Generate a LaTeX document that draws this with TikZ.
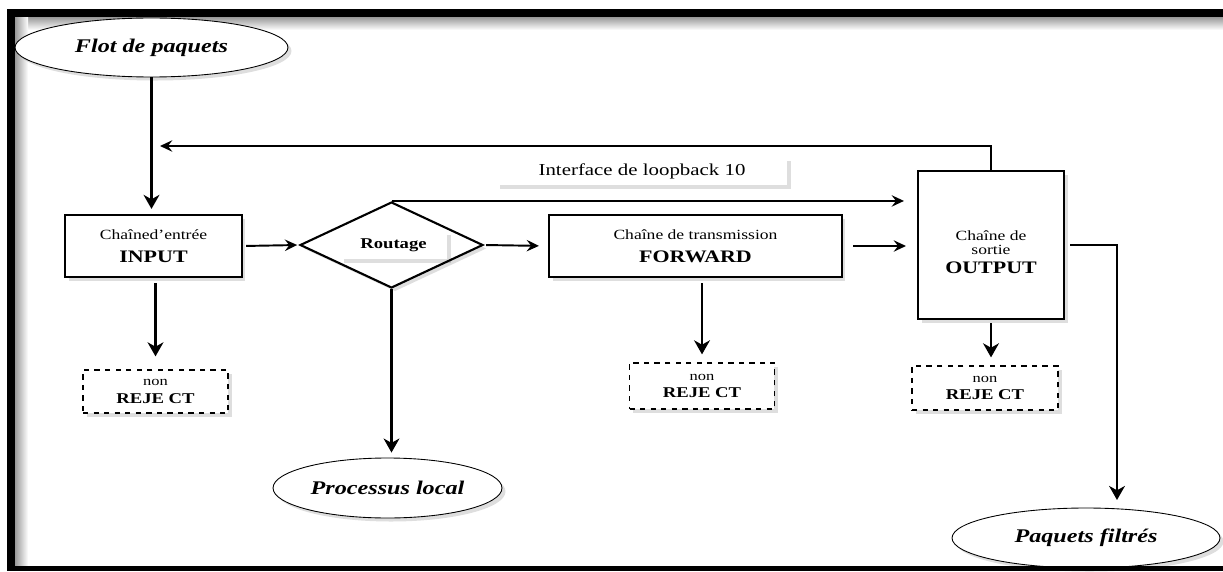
\documentclass[tikz,border=0pt]{standalone}
\usepackage{fontspec}
\setmainfont{Liberation Serif}[FakeStretch=1.25]
\usetikzlibrary{arrows.meta,shapes.geometric,shadows}
\begin{document}
\begin{tikzpicture}[x=0.02cm,y=-0.02cm,
  sh/.style={drop shadow={shadow xshift=2pt,shadow yshift=-2pt,opacity=0.13,fill=black}},
  box/.style={draw,line width=1.2pt,fill=white,inner sep=0pt,align=center,sh},
  rej/.style={draw,dashed,line width=0.7pt,fill=white,inner sep=0pt,align=center,sh,font=\fontsize{7.5}{8}\selectfont},
  oval/.style={ellipse,draw,line width=0.5pt,fill=white,inner sep=0pt,sh,font=\bfseries\itshape\fontsize{11}{13}\selectfont},
  tag/.style={fill=white,inner sep=0pt,sh},
  bigarr/.style={line width=1.6pt,-{Stealth[length=8pt,width=9pt,inset=2.5pt]}},
  smallarr/.style={line width=1.1pt,-{Stealth[length=7pt,width=6.5pt,inset=2.5pt]}},
]
\useasboundingbox (0,0) rectangle (1223,571);
% frame
\shade[top color=black!40,bottom color=white] (15,17) rectangle (1223,30);
\shade[left color=black!40,right color=white] (15,17) rectangle (28,567);
\fill (7,9) rectangle (1223,17);
\fill (7,9) rectangle (15,571);

% nodes
\node[oval,minimum width=5.46cm,minimum height=1.18cm] (flot) at (151.5,47.5) {Flot de paquets};
\node[box,minimum width=3.54cm,minimum height=1.24cm,font=\fontsize{8}{10}\selectfont] (input) at (153.5,246)
  {Chaîned'entrée\\[3pt]\bfseries\fontsize{10}{12}\selectfont INPUT};
\node[diamond,draw,line width=1.2pt,fill=white,inner sep=0pt,aspect=2.13,minimum width=3.66cm,minimum height=1.72cm,sh] (rout) at (391.5,245) {};
\node[tag,minimum width=2.14cm,minimum height=0.56cm,font=\bfseries\fontsize{8.5}{10}\selectfont] (routlbl) at (393.5,245) {Routage};
\node[tag,minimum width=5.82cm,minimum height=0.56cm,font=\fontsize{9.5}{11}\selectfont] (loop) at (642,171) {Interface de loopback 10};
\node[box,minimum width=5.86cm,minimum height=1.24cm,font=\fontsize{8}{10}\selectfont] (forward) at (695.5,246)
  {Chaîne de transmission\\[3pt]\bfseries\fontsize{10}{12}\selectfont FORWARD};
\node[box,minimum width=2.92cm,minimum height=2.96cm] (output) at (991,245) {};
\node[align=center,inner sep=0pt,font=\fontsize{8}{8}\selectfont] (outlbl) at (991,252)
  {Chaîne de\\sortie\\[3pt]\bfseries\fontsize{10}{12}\selectfont OUTPUT};
\node[rej,minimum width=2.9cm,minimum height=0.86cm] (rej1) at (155.5,391.5)
  {non\\[2pt]\bfseries\fontsize{8.5}{10}\selectfont REJE CT};
\node[rej,minimum width=2.9cm,minimum height=0.92cm] (rej2) at (702,386)
  {non\\[2pt]\bfseries\fontsize{8.5}{10}\selectfont REJE CT};
\node[rej,minimum width=2.92cm,minimum height=0.88cm] (rej3) at (985,388)
  {non\\[2pt]\bfseries\fontsize{8.5}{10}\selectfont REJE CT};
\node[oval,minimum width=4.58cm,minimum height=1.2cm] (proc) at (387.5,488) {Processus local};
\node[oval,minimum width=5.36cm,minimum height=1.2cm] (pf) at (1086,538) {Paquets filtrés};
\fill (7,566) rectangle (1223,571);

\coordinate (fbend) at (160,146);
\coordinate (pfin) at (1117,500);

% connectors
\draw[bigarr,shorten >=0.1cm] (flot.south) -- (flot.south |- input.north);
\draw[smallarr] (output.north) |- (fbend);
\draw[smallarr,shorten <=0.06cm,shorten >=1pt] (input.east) -- (rout.west);
\draw[smallarr,shorten >=0.26cm] (rout.north) -- (rout.north -| output.west);
\draw[smallarr,shorten <=0.04cm,shorten >=0.18cm] (rout.east) -- (forward.west);
\draw[smallarr,shorten <=0.2cm,shorten >=0.22cm] (forward.east) -- (forward.east -| output.west);
\draw[bigarr,line width=1.4pt,shorten <=0.1cm] (output.east) -| (pfin);
\draw[bigarr,shorten >=0.1cm] (rout.south) -- (rout.south |- proc.north);
\draw[bigarr,shorten <=0.1cm,shorten >=0.26cm] (rej1.north |- input.south) -- (rej1.north);
\draw[bigarr,shorten <=0.1cm,shorten >=0.16cm] (rej2.north |- forward.south) -- (rej2.north);
\draw[bigarr,shorten <=0.06cm,shorten >=0.16cm] (output.south) -- (output.south |- rej3.north);
\end{tikzpicture}
\end{document}
